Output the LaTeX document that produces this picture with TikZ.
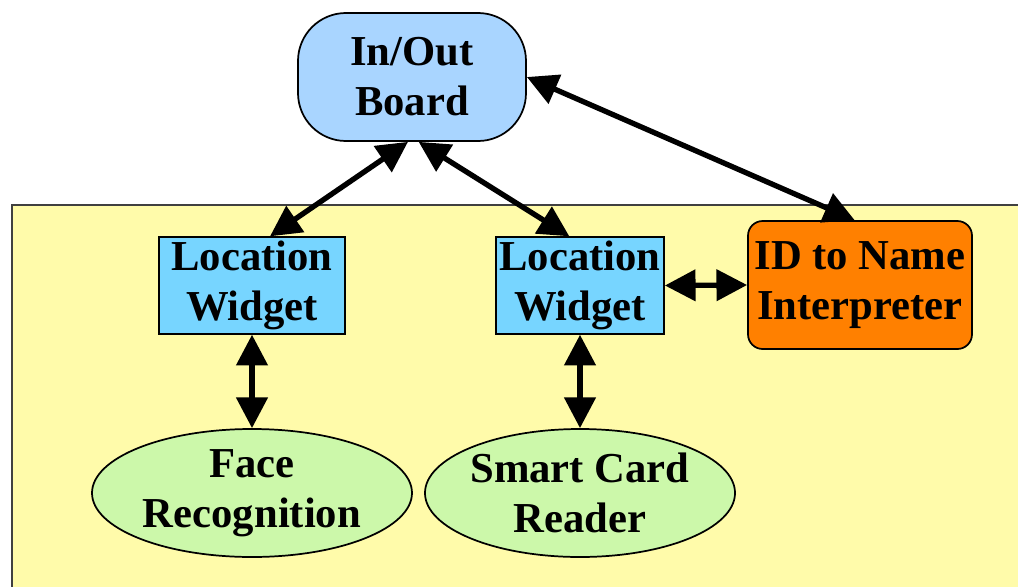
\documentclass[tikz,border=0pt]{standalone}
\usepackage{fontspec}
\setmainfont{Liberation Serif}
\usetikzlibrary{arrows.meta,shapes.geometric}
\definecolor{panelY}{HTML}{FFFBAA}
\definecolor{ioBlue}{HTML}{A9D5FF}
\definecolor{lwBlue}{HTML}{77D5FF}
\definecolor{idOrange}{HTML}{FF8000}
\definecolor{ellGreen}{HTML}{CCF8AA}
\tikzset{
  lbl/.style={font=\fontsize{32}{37.5}\selectfont\bfseries, align=center, inner sep=0pt, draw=black, line width=1.3pt},
  iobox/.style={lbl, rectangle, rounded corners=36pt, fill=ioBlue, minimum width=171pt, minimum height=96pt},
  lwbox/.style={lbl, rectangle, fill=lwBlue, minimum height=72.5pt},
  idbox/.style={lbl, rectangle, rounded corners=11pt, fill=idOrange, minimum width=168pt, minimum height=96pt},
  ellnode/.style={lbl, ellipse, fill=ellGreen, minimum height=96pt},
  arr/.style={line width=4pt, {Triangle[length=23pt,width=23pt]}-{Triangle[length=23pt,width=23pt]}}
}
\begin{document}
\begin{tikzpicture}[x=0.75pt,y=-0.75pt]
\useasboundingbox (0,0) rectangle (1018,586);
\clip (0,0) rectangle (1018,586);
\draw[fill=panelY, draw=black!75, line width=1.3pt] (12,205) rectangle (1030,600);
\node[iobox] (io) at (412,77) {In/Out\\Board};
\node[lwbox, minimum width=139.5pt] (lw1) at (252,285.5) {Location\\Widget};
\node[lwbox, minimum width=126pt] (lw2) at (580,285.5) {Location\\Widget};
\node[idbox] (id) at (860,285) {ID to Name\\Interpreter};
\node[ellnode, minimum width=240pt] (face) at (252,493) {Face\\Recognition};
\node[ellnode, minimum width=232.5pt] (scr) at (580,493) {Smart Card\\Reader};
\draw[arr] ([xshift=-3pt]io.south) -- ([xshift=13.5pt]lw1.north);
\draw[arr] ([xshift=5pt]io.south) -- ([xshift=-8pt]lw2.north);
\draw[arr] (io.east) -- ([xshift=-4pt]id.north);
\draw[arr] (lw2.east) -- (id.west);
\draw[arr] (lw1.south) -- (face.north);
\draw[arr] (lw2.south) -- (scr.north);
\end{tikzpicture}
\end{document}
